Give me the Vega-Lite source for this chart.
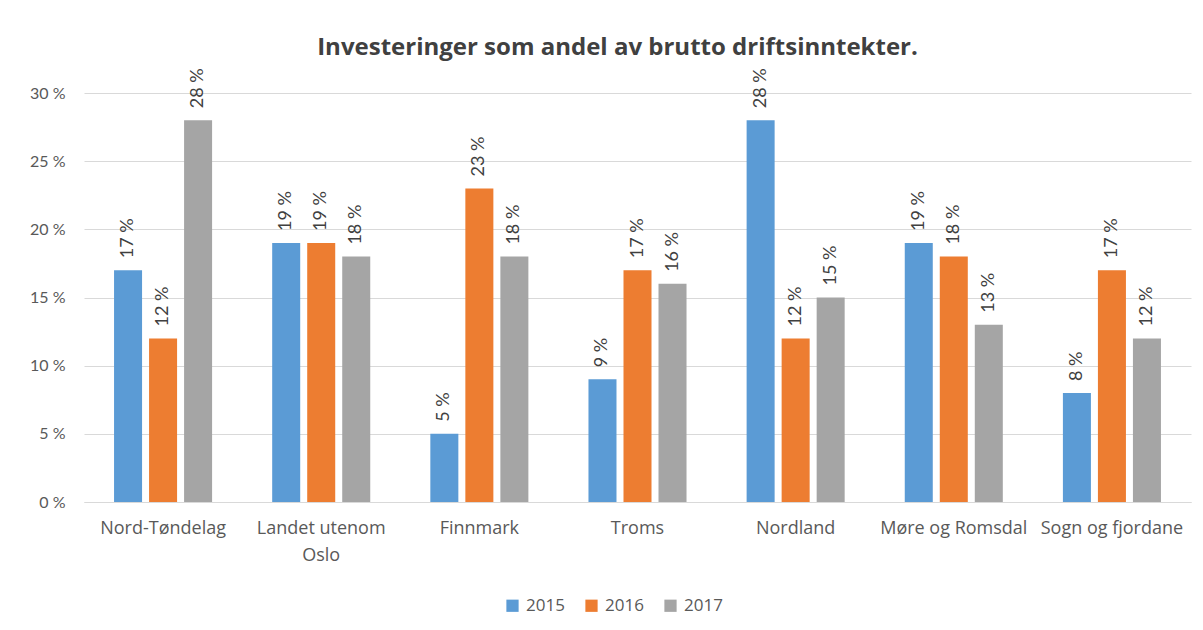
{
  "$schema": "https://vega.github.io/schema/vega-lite/v6.json",
  "width": 1107,
  "height": 409,
  "autosize": {"type": "none"},
  "padding": {"left": 84, "top": 93, "right": 12, "bottom": 128},
  "background": "white",
  "config": {
    "view": {"stroke": null},
    "font": "Lato"
  },
  "title": {
    "text": "Investeringer som andel av brutto driftsinntekter.",
    "font": "Open Sans",
    "fontSize": 24,
    "fontWeight": "bold",
    "color": "#404040",
    "anchor": "middle",
    "dx": -20,
    "offset": 8
  },
  "data": {
    "values": [
      {"region": "Nord-Tøndelag", "year": "2015", "value": 17},
      {"region": "Nord-Tøndelag", "year": "2016", "value": 12},
      {"region": "Nord-Tøndelag", "year": "2017", "value": 28},
      {"region": "Landet utenom Oslo", "year": "2015", "value": 19},
      {"region": "Landet utenom Oslo", "year": "2016", "value": 19},
      {"region": "Landet utenom Oslo", "year": "2017", "value": 18},
      {"region": "Finnmark", "year": "2015", "value": 5},
      {"region": "Finnmark", "year": "2016", "value": 23},
      {"region": "Finnmark", "year": "2017", "value": 18},
      {"region": "Troms", "year": "2015", "value": 9},
      {"region": "Troms", "year": "2016", "value": 17},
      {"region": "Troms", "year": "2017", "value": 16},
      {"region": "Nordland", "year": "2015", "value": 28},
      {"region": "Nordland", "year": "2016", "value": 12},
      {"region": "Nordland", "year": "2017", "value": 15},
      {"region": "Møre og Romsdal", "year": "2015", "value": 19},
      {"region": "Møre og Romsdal", "year": "2016", "value": 18},
      {"region": "Møre og Romsdal", "year": "2017", "value": 13},
      {"region": "Sogn og fjordane", "year": "2015", "value": 8},
      {"region": "Sogn og fjordane", "year": "2016", "value": 17},
      {"region": "Sogn og fjordane", "year": "2017", "value": 12}
    ]
  },
  "encoding": {
    "x": {
      "field": "region",
      "type": "nominal",
      "sort": null,
      "scale": {"paddingInner": 0.38, "paddingOuter": 0.19},
      "axis": {
        "title": null,
        "labelAngle": 0,
        "labelFont": "Open Sans",
        "labelFontSize": 18,
        "labelColor": "#595959",
        "labelPadding": 17,
        "labelLimit": 300,
        "labelOverlap": false,
        "ticks": false,
        "domain": true,
        "domainColor": "#d9d9d9",
        "labelExpr": "datum.label == 'Landet utenom Oslo' ? ['Landet utenom', 'Oslo'] : datum.label",
        "labelLineHeight": 27
      }
    },
    "xOffset": {
      "field": "year",
      "type": "nominal",
      "scale": {"paddingInner": 0.2}
    },
    "y": {
      "field": "value",
      "type": "quantitative",
      "scale": {"domain": [0, 30], "nice": false},
      "axis": {
        "title": null,
        "values": [0, 5, 10, 15, 20, 25, 30],
        "labelExpr": "datum.value + ' %'",
        "labelFontSize": 16,
        "labelColor": "#595959",
        "labelPadding": 19,
        "ticks": false,
        "domain": false,
        "grid": true,
        "gridColor": "#d9d9d9",
        "gridWidth": 1
      }
    }
  },
  "layer": [
    {
      "mark": {"type": "bar"},
      "encoding": {
        "color": {
          "field": "year",
          "type": "nominal",
          "scale": {"domain": ["2015", "2016", "2017"], "range": ["#5B9BD5", "#ED7D31", "#A5A5A5"]},
          "legend": {
            "title": null,
            "orient": "none",
            "direction": "horizontal",
            "legendX": 420,
            "legendY": 504,
            "symbolType": "square",
            "symbolSize": 150,
            "symbolStrokeWidth": 0,
            "labelFont": "Open Sans",
            "labelFontSize": 17,
            "labelColor": "#595959",
            "columnPadding": 18,
            "padding": 0,
            "labelOffset": 5
          }
        }
      }
    },
    {
      "mark": {
        "type": "text",
        "angle": 270,
        "align": "left",
        "baseline": "middle",
        "dx": 12,
        "fontSize": 18,
        "color": "#404040"
      },
      "encoding": {
        "text": {"field": "label", "type": "nominal"}
      },
      "transform": [{"calculate": "datum.value + ' %'", "as": "label"}]
    }
  ]
}
